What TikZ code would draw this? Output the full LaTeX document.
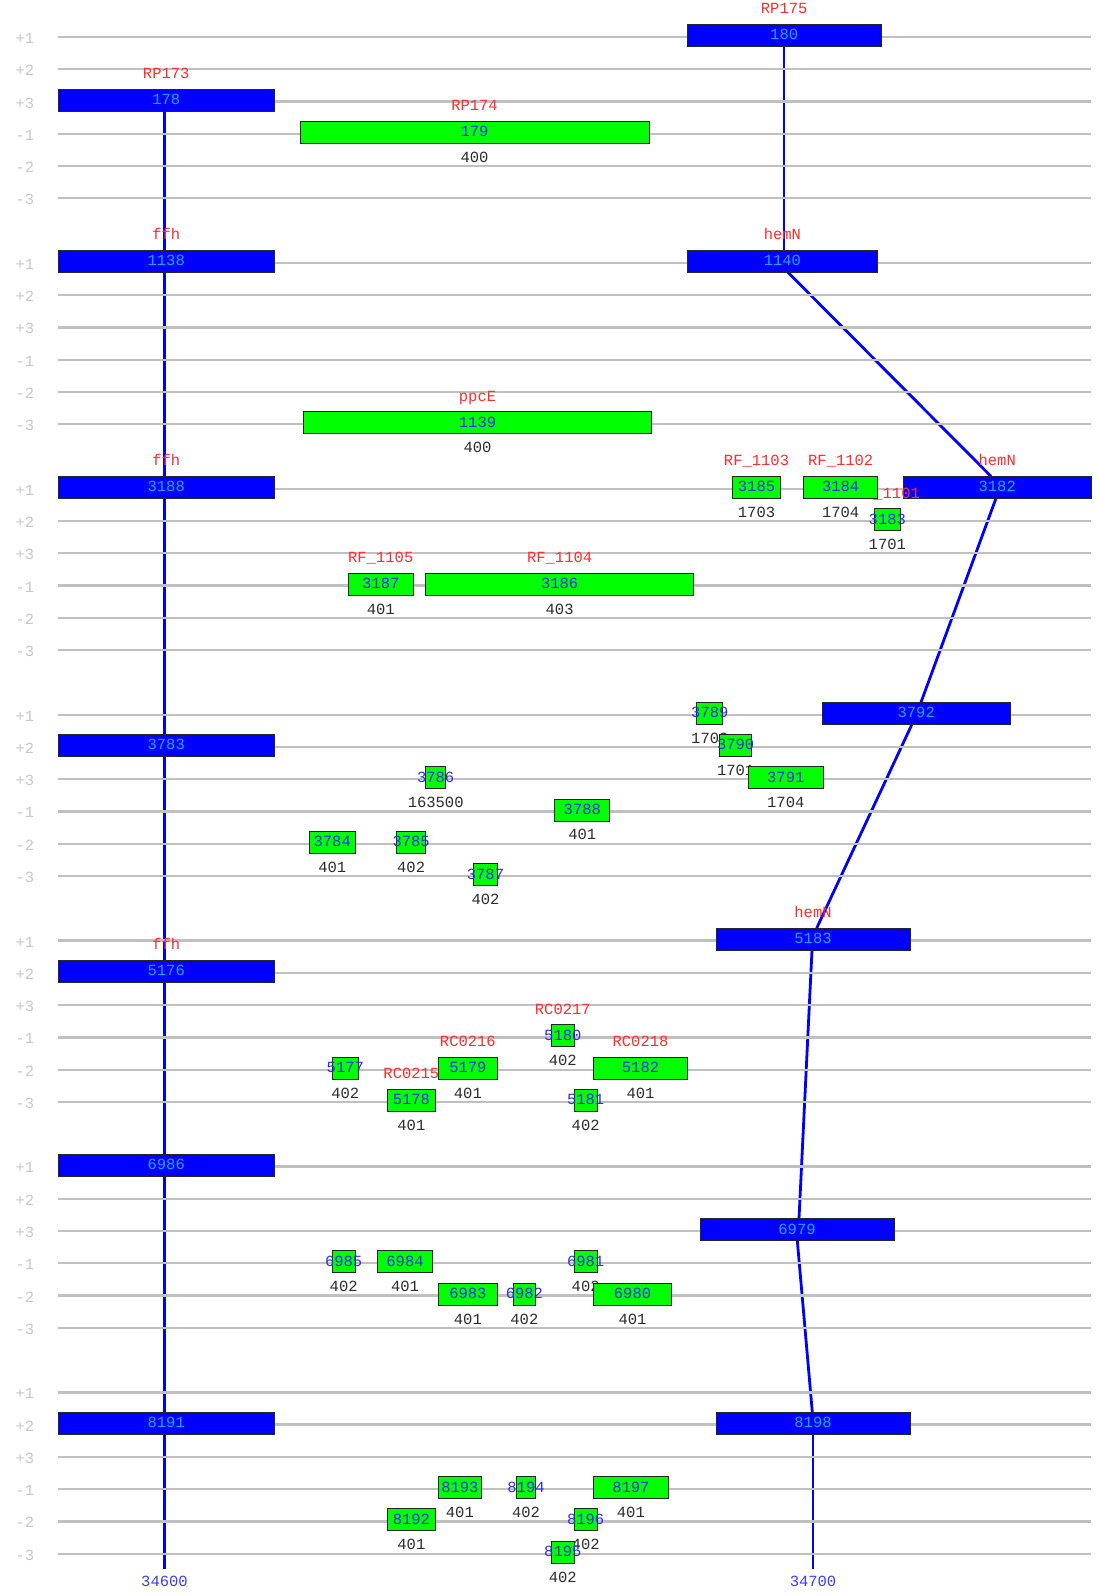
\documentclass[tikz,border=0pt]{standalone}
\usepackage{fontspec}
\setmonofont{Liberation Mono}
\definecolor{gline}{RGB}{192,192,192}
\definecolor{bfill}{RGB}{0,0,255}
\definecolor{gfill}{RGB}{0,255,0}
\definecolor{btxt}{RGB}{30,165,255}
\definecolor{gtxt}{RGB}{45,45,240}
\definecolor{nred}{RGB}{255,45,45}
\definecolor{ngray}{RGB}{45,45,45}
\definecolor{rgray}{RGB}{200,200,200}
\definecolor{axblue}{RGB}{60,60,255}
\tikzset{
  every node/.style={font=\ttfamily\fontsize{15.5}{16}\selectfont, inner sep=0pt, outer sep=0pt},
  gridln/.style={draw=gline, line width=2.3pt},
  conn/.style={draw=bfill, line width=2.8pt},
  bluebox/.style={rectangle, draw=black!85, fill=bfill, line width=0.9pt, minimum height=22pt},
  greenbox/.style={rectangle, draw=black!85, fill=gfill, line width=0.9pt, minimum height=22pt},
  bluetext/.style={text=btxt, anchor=base},
  greentext/.style={text=gtxt, anchor=base},
  namelab/.style={text=nred, anchor=base},
  numlab/.style={text=ngray, anchor=base},
  rowlab/.style={text=rgray, anchor=base},
  axlab/.style={text=axblue, anchor=base},
}
% #1 blue/green, #2 id, #3 x1, #4 x2, #5 group, #6 row, #7 name label, #8 number label
\newcommand\gene[8]{%
  \pgfmathsetmacro\gy{37+32.27*(7*#5+#6)}%
  \pgfmathsetmacro\gx{(#3+#4)/2}%
  \node[#1box, minimum width={#4-#3}] (g#2) at (\gx,\gy-1.5) {};
  \node[#1text] (t#2) at (\gx,\gy+3) {#2};
  \if\relax\detokenize{#7}\relax\else\node[namelab] (n#2) at (\gx,\gy-23) {#7};\fi
  \if\relax\detokenize{#8}\relax\else\node[numlab] (m#2) at (\gx,\gy+28.5) {#8};\fi
}
\begin{document}
\begin{tikzpicture}[x=1pt,y=-1pt]
\useasboundingbox (0,0) rectangle (1096,1594);
\fill[white] (0,0) rectangle (1096,1594);

% connector coordinates
\coordinate (l178b) at (164.5,111);
\coordinate (lend) at (164.5,1569.3);
\coordinate (r180b) at (784,46.5);
\coordinate (r1140t) at (784,250.4);
\coordinate (r1140b) at (788,272.4);
\coordinate (r3182t) at (991,476.3);
\coordinate (r3182b) at (996,498.3);
\coordinate (r3792t) at (921,702.2);
\coordinate (r3792b) at (912,724.2);
\coordinate (r5183t) at (816.7,928.1);
\coordinate (r5183b) at (812,950.1);
\coordinate (r6979t) at (799,1218.5);
\coordinate (r6979b) at (797.3,1240.5);
\coordinate (r8198t) at (812.3,1412.1);
\coordinate (r8198b) at (813,1434.1);
\coordinate (rend) at (813,1569.3);

\draw[conn] (l178b) -- (lend);
\draw[conn] (r180b) -- (r1140t);
\draw[conn] (r1140b) -- (r3182t);
\draw[conn] (r3182b) -- (r3792t);
\draw[conn] (r3792b) -- (r5183t);
\draw[conn] (r5183b) -- (r6979t);
\draw[conn] (r6979b) -- (r8198t);
\draw[conn] (r8198b) -- (rend);

% grid lines and row labels
\foreach \g in {0,...,6}{
  \foreach \r/\lab in {0/+1,1/+2,2/+3,3/-1,4/-2,5/-3}{
    \pgfmathsetmacro\yy{37+32.27*(7*\g+\r)}
    \draw[gridln] (58,\yy) -- (1091,\yy);
    \node[rowlab] (row\g\r) at (25,\yy+6.5) {\lab};
  }
}

% group 1
\gene{blue}{178}{58}{274.5}{0}{2}{RP173}{}
\gene{green}{179}{300}{649}{0}{3}{RP174}{400}
\gene{blue}{180}{687}{881.3}{0}{0}{RP175}{}
% group 2
\gene{blue}{1138}{58}{274.5}{1}{0}{ffh}{}
\gene{blue}{1140}{687}{877.8}{1}{0}{hemN}{}
\gene{green}{1139}{303.4}{651.6}{1}{5}{ppcE}{400}
% group 3
\gene{blue}{3188}{58}{274.5}{2}{0}{ffh}{}
\gene{green}{3187}{348.3}{413.2}{2}{3}{RF\_1105}{401}
\gene{green}{3186}{425.5}{693.7}{2}{3}{RF\_1104}{403}
\gene{green}{3185}{732.3}{780.7}{2}{0}{RF\_1103}{1703}
\gene{blue}{3182}{903.4}{1091}{2}{0}{hemN}{}
\gene{green}{3183}{874.3}{900.3}{2}{1}{RF\_1101}{1701}
\gene{green}{3184}{803.5}{877.8}{2}{0}{RF\_1102}{1704}
% group 4
\gene{blue}{3783}{58}{274.5}{3}{1}{}{}
\gene{green}{3786}{425.5}{445.8}{3}{2}{}{163500}
\gene{green}{3784}{309.4}{355}{3}{4}{}{401}
\gene{green}{3785}{396.4}{425.8}{3}{4}{}{402}
\gene{green}{3787}{473.9}{497}{3}{5}{}{402}
\gene{green}{3788}{554.8}{609.8}{3}{3}{}{401}
\gene{blue}{3792}{822.4}{1010}{3}{0}{}{}
\gene{green}{3789}{696.8}{722.8}{3}{0}{}{1703}
\gene{green}{3790}{719.3}{751.9}{3}{1}{}{1701}
\gene{green}{3791}{748.4}{823.1}{3}{2}{}{1704}
% group 5
\gene{blue}{5176}{58}{274.5}{4}{1}{ffh}{}
\gene{blue}{5183}{716}{910}{4}{0}{hemN}{}
\gene{green}{5177}{332.3}{358.3}{4}{4}{}{402}
\gene{green}{5178}{387}{435.7}{4}{5}{RC0215}{401}
\gene{green}{5179}{438.7}{497}{4}{4}{RC0216}{401}
\gene{green}{5180}{551.3}{574.3}{4}{3}{RC0217}{402}
\gene{green}{5181}{574.3}{597}{4}{5}{}{402}
\gene{green}{5182}{593.7}{687.3}{4}{4}{RC0218}{401}
% group 6
\gene{blue}{6986}{58}{274.5}{5}{0}{}{}
\gene{blue}{6979}{700}{894}{5}{2}{}{}
\gene{green}{6985}{332.3}{355}{5}{3}{}{402}
\gene{green}{6984}{377.3}{432.7}{5}{3}{}{401}
\gene{green}{6983}{438.7}{497}{5}{4}{}{401}
\gene{green}{6982}{513}{535.7}{5}{4}{}{402}
\gene{green}{6981}{574.3}{597}{5}{3}{}{402}
\gene{green}{6980}{593.7}{671.3}{5}{4}{}{401}
% group 7
\gene{blue}{8191}{58}{274.5}{6}{1}{}{}
\gene{blue}{8198}{716}{910}{6}{1}{}{}
\gene{green}{8193}{438.7}{481}{6}{3}{}{401}
\gene{green}{8192}{387}{435.7}{6}{4}{}{401}
\gene{green}{8194}{516.3}{535.7}{6}{3}{}{402}
\gene{green}{8197}{593.7}{668}{6}{3}{}{401}
\gene{green}{8196}{574.3}{597}{6}{4}{}{402}
\gene{green}{8195}{551.3}{574.3}{6}{5}{}{402}

% axis labels
\node[axlab] (ax1) at (164.5,1586) {34600};
\node[axlab] (ax2) at (813,1586) {34700};
\end{tikzpicture}
\end{document}
